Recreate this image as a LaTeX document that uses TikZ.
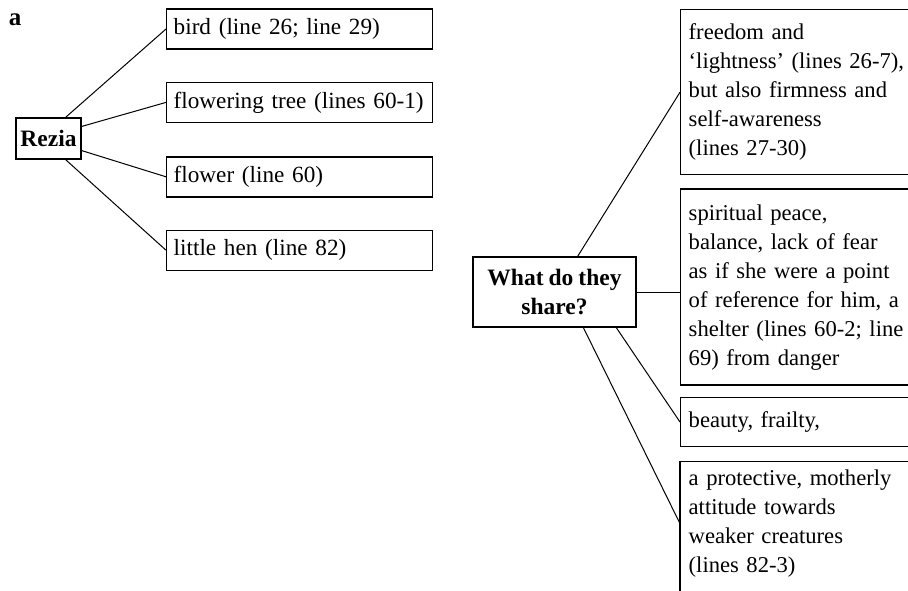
\documentclass[tikz,border=0pt]{standalone}
\usepackage{fontspec}
\setmainfont{Liberation Serif}[WordSpace=0.85]
\usetikzlibrary{positioning}

\begin{document}
\begin{tikzpicture}[x=0.5pt,y=-0.5pt,line width=0.5pt,font=\fontsize{11.3}{14.5}\selectfont,
  leaf/.style={draw,line width=0.7pt,minimum height=20pt,text width=126pt,align=left,inner xsep=3.5pt,inner ysep=0pt,font=\fontsize{11.6}{14.5}\selectfont},
  note/.style={draw,line width=0.7pt,text width=120pt,align=left,inner xsep=4pt,inner ysep=4pt},
  hub/.style={draw,line width=0.7pt,font=\fontsize{11.75}{14.5}\selectfont\bfseries,align=center,inner sep=2pt}]
  \useasboundingbox (0,0) rectangle (908,590);
  \clip (0,0) rectangle (908,590);
  \node[font=\fontsize{12.5}{14.5}\selectfont\bfseries] (a) at (15,20) {a};
  % left part
  \node[hub,minimum width=32.5pt,minimum height=20.5pt] (rezia) at (48.5,138.5) {Rezia};
  \node[leaf,anchor=west] (bird) at (166,29) {bird (line 26; line 29)};
  \node[leaf,below=16pt of bird] (tree) {flowering tree (lines 60-1)};
  \node[leaf,below=16.5pt of tree] (flower) {flower (line 60)};
  \node[leaf,below=16pt of flower] (hen) {little hen (line 82)};
  \draw (rezia.51)--(bird.west);
  \draw (rezia.20)--(tree.west);
  \draw (rezia.-20)--(flower.west);
  \draw (rezia.-51)--(hen.west);
  % right part
  \node[hub,minimum width=81.5pt,minimum height=35pt] (share) at (554.5,292) {What do they\\share?};
  \node[note,anchor=north west,minimum height=82.5pt] (freedom) at (680,9) {freedom and\\`lightness' (lines 26-7),\\but also firmness and\\self-awareness\\(lines 27-30)};
  \node[note,below=6.5pt of freedom,minimum height=98pt] (peace) {spiritual peace,\\balance, lack of fear\\as if she were a point\\of reference for him, a\\shelter (lines 60-2; line\\69) from danger};
  \node[note,below=5.5pt of peace,minimum height=24.5pt] (beauty) {beauty, frailty,};
  \node[note,draw=none,below=7pt of beauty] (mother) {a protective, motherly\\attitude towards\\weaker creatures\\(lines 82-3)};
  \draw[line width=0.7pt] (mother.north east)--(mother.north west)--(mother.west |- 0,600);
  \draw (share.57)--(freedom.west);
  \draw (share.east)--(share.east -| peace.west);
  \draw (share.-30.5)--(beauty.west);
  \draw (share.-51)--(mother.west);
\end{tikzpicture}
\end{document}
